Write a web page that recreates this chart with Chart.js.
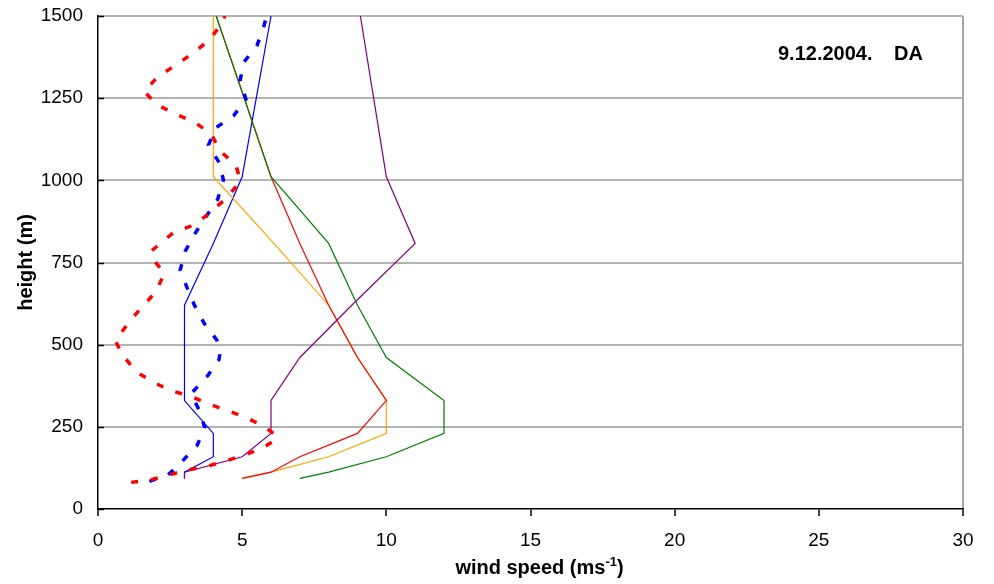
<!DOCTYPE html>
<html>
<head>
<meta charset="utf-8">
<title>wind speed profiles</title>
<script src="https://cdn.jsdelivr.net/npm/chart.js@4.4.0/dist/chart.umd.min.js"></script>
<style>
    html, body { margin: 0; padding: 0; background: #fff; }
    .chart-wrap { width: 994px; height: 584px; position: relative; }
</style>
</head>
<body>
<div class="chart-wrap"><canvas id="profile-chart"></canvas></div>
<script>
// --- Data ---
// heights (m) of the solid profiles
const levels = [93, 112, 159, 230, 330, 461, 620, 808, 1011, 1500];
const purpleSpeed = [3, 3, 5, 6, 6, 7, 8.8, 11, 10, 9.1];
const greenSpeed  = [7, 8, 10, 12, 12, 10, 9, 8, 6, 4.1];
const redSpeed    = [5, 6, 7, 9, 10, 9, 8, 7, 6, 4.1];
const orangeSpeed = [5, 6, 8, 10, 10, 9, 8, 6.1, 4, 4];
const blueSpeed   = [3, 3, 4, 4, 3, 3, 3, 4, 5, 6];

// dashed profiles (own heights)
const redDashHeight = [81, 89, 103, 119, 129, 144, 162, 182, 210, 222, 252, 281, 301, 321, 345, 360, 387, 418, 469, 512, 570,
    616, 661, 717, 763, 785, 839, 861, 891, 940, 986, 1010, 1047, 1087, 1143, 1177, 1201, 1229, 1270, 1315, 1351, 1386, 1427, 1480, 1500];
const redDashSpeed = [1.15, 1.83, 2.45, 3.1, 3.73, 4.36, 4.99, 5.63, 6.16, 6.2, 5.75, 5.07, 4.43, 3.8, 3.16, 2.53, 1.89, 1.32, 0.85, 0.6, 1.09,
    1.54, 2.01, 2.3, 1.89, 1.85, 2.59, 3.22, 3.74, 4.38, 4.84, 4.9, 4.78, 4.26, 3.91, 3.34, 2.7, 2.07, 1.6, 2.07, 2.7, 3.28, 3.86, 4.32, 4.4];

const blueDashHeight = [84, 104, 144, 194, 248, 301, 350, 405, 455, 470, 514, 565, 621, 671, 727, 785, 839, 894, 942, 1001,
    1054, 1107, 1160, 1196, 1247, 1305, 1361, 1409, 1465, 1500];
const blueDashSpeed = [1.78, 2.43, 2.91, 3.44, 3.7, 3.51, 3.22, 3.8, 4.2, 4.22, 4.12, 3.68, 3.34, 3.1, 2.85, 3.03, 3.37, 3.78, 4.15, 4.35,
    4.2, 3.83, 4.09, 4.7, 5.13, 4.93, 5.07, 5.51, 5.74, 5.85];

const xTicks = [0, 5, 10, 15, 20, 25, 30];
const yTicks = [0, 250, 500, 750, 1000, 1250, 1500];

const toPoints = (speeds, heights) => speeds.map((v, i) => ({ x: v, y: heights[i] }));

const FONT = '"Liberation Sans", Arial, sans-serif';
Chart.defaults.font.family = FONT;
Chart.defaults.color = '#000';

// inward ticks on the y axis, x title with superscript, date label
const extras = {
    id: 'extras',
    afterDraw(chart) {
        const { ctx, chartArea, scales } = chart;
        ctx.save();
        ctx.strokeStyle = '#000';
        ctx.lineWidth = 1.5;
        yTicks.forEach(t => {
            const y = Math.round(scales.y.getPixelForValue(t)) + 0.5;
            ctx.beginPath();
            ctx.moveTo(chartArea.left, y);
            ctx.lineTo(chartArea.left + 6, y);
            ctx.stroke();
        });

        // x axis title: wind speed (ms^-1)
        ctx.fillStyle = '#000';
        ctx.textBaseline = 'alphabetic';
        ctx.textAlign = 'left';
        const main = 'wind speed (ms';
        const sup = '-1';
        const close = ')';
        ctx.font = 'bold 20px ' + FONT;
        const wMain = ctx.measureText(main).width;
        const wClose = ctx.measureText(close).width;
        ctx.font = 'bold 13px ' + FONT;
        const wSup = ctx.measureText(sup).width;
        const total = wMain + wSup + wClose;
        let x = 539.5 - total / 2;
        const base = 574;
        ctx.font = 'bold 20px ' + FONT;
        ctx.fillText(main, x, base);
        x += wMain;
        ctx.font = 'bold 13px ' + FONT;
        ctx.fillText(sup, x, base - 8);
        x += wSup;
        ctx.font = 'bold 20px ' + FONT;
        ctx.fillText(close, x, base);

        // date label
        ctx.font = 'bold 20px ' + FONT;
        ctx.fillText('9.12.2004.', 778, 60);
        ctx.fillText('DA', 894, 60);
        ctx.restore();
    }
};

const solid = (label, color, speeds) => ({
    label,
    data: toPoints(speeds, levels),
    borderColor: color,
    borderWidth: 1.2,
    showLine: true,
    pointRadius: 0,
    tension: 0,
    fill: false
});

const dashed = (label, color, speeds, heights) => ({
    label,
    data: toPoints(speeds, heights),
    borderColor: color,
    borderWidth: 3.5,
    borderDash: [7, 13],
    borderCapStyle: 'butt',
    showLine: true,
    pointRadius: 0,
    tension: 0,
    fill: false
});

// first dataset is drawn on top
new Chart(document.getElementById('profile-chart'), {
    type: 'scatter',
    data: {
        datasets: [
            dashed('red dashed', '#ff0000', redDashSpeed, redDashHeight),
            dashed('blue dashed', '#0000ff', blueDashSpeed, blueDashHeight),
            solid('purple', '#800080', purpleSpeed),
            solid('green', '#008000', greenSpeed),
            solid('red', '#ff0000', redSpeed),
            solid('orange', '#ffa500', orangeSpeed),
            solid('blue', '#0000ff', blueSpeed)
        ]
    },
    options: {
        responsive: true,
        maintainAspectRatio: false,
        animation: false,
        layout: { padding: { top: 16, right: 31, left: 0, bottom: 0 } },
        plugins: {
            legend: { display: false },
            tooltip: { enabled: false }
        },
        scales: {
            x: {
                type: 'linear',
                min: 0,
                max: 30,
                afterFit: s => { s.height = 75; s.paddingLeft = 0; s.paddingRight = 0; },
                afterBuildTicks: s => { s.ticks = xTicks.map(v => ({ value: v })); },
                ticks: { font: { size: 19 }, padding: 13, maxRotation: 0, callback: v => String(v) },
                grid: {
                    drawOnChartArea: true,
                    drawTicks: true,
                    tickLength: 7,
                    tickColor: '#000',
                    tickWidth: 1.5,
                    lineWidth: 2,
                    color: c => (c.tick && c.tick.value === 30) ? '#a6a6a6' : 'rgba(0,0,0,0)'
                },
                border: { display: true, color: '#000', width: 1.5 }
            },
            y: {
                type: 'linear',
                min: 0,
                max: 1500,
                afterFit: s => { s.width = 98; s.paddingTop = 0; s.paddingBottom = 0; },
                afterBuildTicks: s => { s.ticks = yTicks.map(v => ({ value: v })); },
                ticks: { font: { size: 19 }, padding: 15, callback: v => String(v) },
                grid: {
                    drawTicks: false,
                    lineWidth: 2,
                    color: c => (c.tick && c.tick.value === 0) ? 'rgba(0,0,0,0)' : '#b3b3b3'
                },
                border: { display: true, color: '#000', width: 1.5 },
                title: {
                    display: true,
                    text: 'height (m)',
                    font: { size: 20, weight: 'bold' },
                    padding: { top: 14, bottom: 0 }
                }
            }
        }
    },
    plugins: [extras]
});
</script>
</body>
</html>
